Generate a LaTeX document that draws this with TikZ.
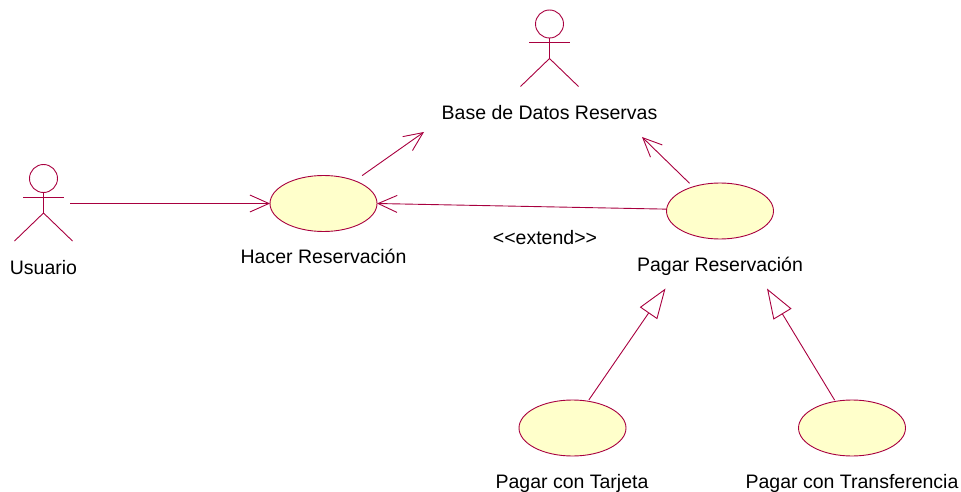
\documentclass[tikz,border=0pt]{standalone}
\usepackage{fontspec}
\setmainfont{Liberation Sans}
\usetikzlibrary{positioning,shapes.geometric,arrows.meta}
\definecolor{umlline}{HTML}{A8003F}
\definecolor{umlfill}{HTML}{FFFFCB}
\tikzset{
	usecase/.style={draw=umlline, fill=umlfill, ellipse, line width=0.9pt, inner sep=0pt, outer sep=0pt, minimum width=107pt, minimum height=56pt},
	lbl/.style={inner sep=0pt, outer sep=0pt, font=\fontsize{19.5}{23}\selectfont, text height=14pt, text depth=4pt},
	assoc/.style={draw=umlline, line width=0.9pt, -{Straight Barb[length=19pt,width=17pt,line width=0.9pt]}},
	general/.style={draw=umlline, line width=0.9pt, -{Triangle[open,length=30pt,width=21pt,fill=white,line width=0.9pt]}},
	actor/.pic={
		\node[draw=umlline, circle, line width=0.9pt, minimum size=28pt, inner sep=0pt, outer sep=0pt] (-head) at (0,0) {};
		\draw[umlline, line width=0.9pt] (-head.south) -- (0,34.5) (-20.5,18.5) -- (20.5,18.5);
		\draw[umlline, line width=0.9pt] (-29,62.5) -- (0,34.5) -- (29,62.5);
		\coordinate (-feet) at (0,62.5);
	}
}

\begin{document}
\begin{tikzpicture}[x=1pt, y=-1pt, node distance=18pt]
	\useasboundingbox (0,0) rectangle (961,492);
	% actors
	\pic (usuario) at (43.5,178.5) {actor};
	\pic (base) at (549.5,24) {actor};
	\node[lbl, below=19pt of usuario-feet] (usuariolbl) {Usuario};
	\node[lbl, below=19pt of base-feet] (baselbl) {Base de Datos Reservas};
	% use cases
	\node[usecase] (hacer) at (323.5,203.5) {};
	\node[usecase] (pagar) at (720,211) {};
	\node[usecase] (tarjeta) at (572.5,428) {};
	\node[usecase] (transf) at (852,428) {};
	\node[lbl, below=of hacer] (hacerlbl) {Hacer Reservación};
	\node[lbl, below=of pagar] (pagarlbl) {Pagar Reservación};
	\node[lbl, below=of tarjeta, xshift=-0.5pt] (tarjetalbl) {Pagar con Tarjeta};
	\node[lbl, below=of transf] (transflbl) {Pagar con Transferencia};
	\node[lbl] (extendlbl) at (545,239) {{<}{<}extend{>}{>}};
	% free ends
	\coordinate (usuarioend) at (70,203.5);
	\coordinate (baseizq) at (424,132);
	\coordinate (baseder) at (642,137);
	\coordinate (pagarizq) at (665.5,288.5);
	\coordinate (pagarder) at (767,288.5);
	% connectors
	\draw[assoc] (usuarioend) -- (hacer.west);
	\draw[assoc, shorten <=9pt] (hacer.36.5) -- (baseizq);
	\draw[assoc, shorten <=5pt] (pagar.138) -- (baseder);
	\draw[assoc] (pagar.178) -- (hacer.east);
	\draw[general, shorten <=1.5pt] (tarjeta.60) -- (pagarizq);
	\draw[general, shorten <=1.5pt] (transf.122) -- (pagarder);
\end{tikzpicture}
\end{document}
